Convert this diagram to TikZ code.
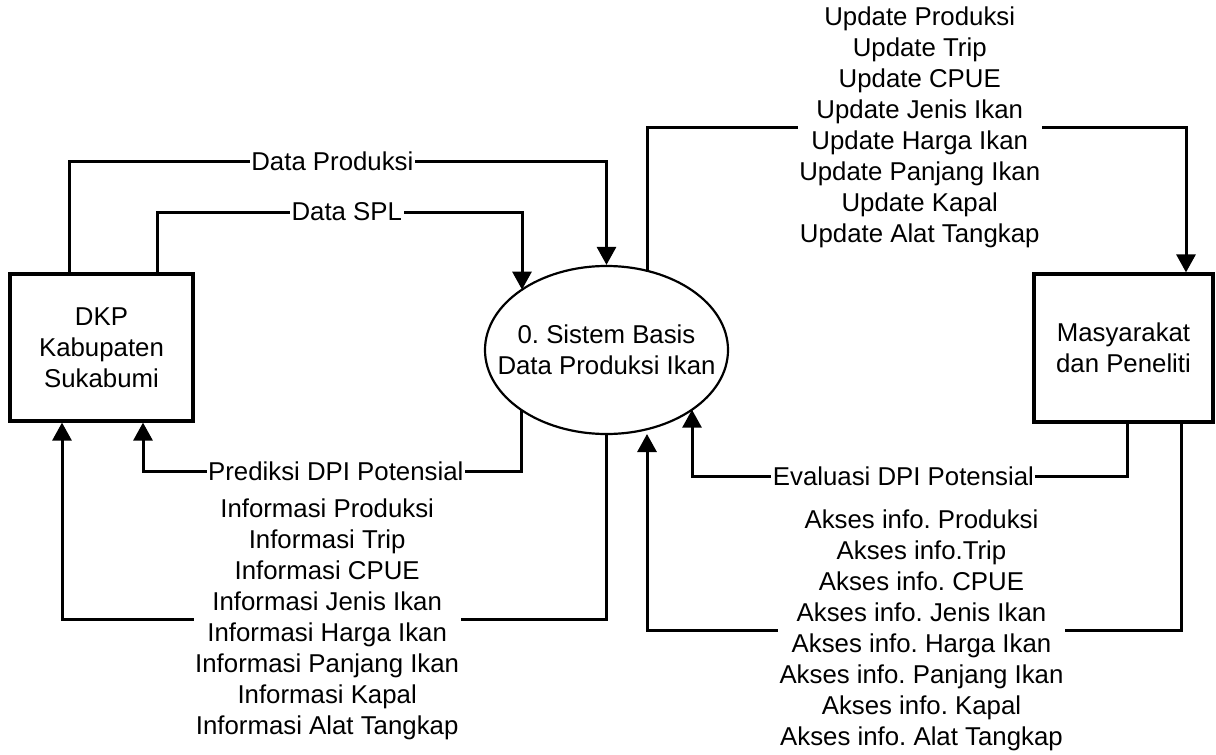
\documentclass[tikz,border=0pt]{standalone}
\usepackage{fontspec}
\setmainfont{Liberation Sans}
\usetikzlibrary{arrows.meta,shapes.geometric}
\frenchspacing
\begin{document}
\begin{tikzpicture}[x=1pt,y=-1pt,
  txt/.style={font=\fontsize{25.8}{31}\selectfont\frenchspacing, align=center},
  box/.style={draw, line width=3.2pt, txt, inner sep=0pt},
  proc/.style={draw, ellipse, line width=2.2pt, txt, inner xsep=-40pt, inner ysep=0pt},
  flow/.style={line width=3pt, -{Triangle[length=18pt,width=19pt]}},
  lbl/.style={txt, fill=white, inner sep=1.5pt}]
\useasboundingbox (0,0) rectangle (1216,755);
% entities and process
\node[box, minimum width=183pt, minimum height=147pt] (dkp) at (101.5,347.5) {DKP\\Kabupaten\\Sukabumi};
\node[proc, minimum width=243pt, minimum height=168pt] (ell) at (606.5,350) {0. Sistem Basis\\Data Produksi Ikan};
\node[box, minimum width=179pt, minimum height=148pt] (mas) at (1123.5,348) {Masyarakat\\dan Peneliti};
% helper coordinates
\coordinate (x69) at (69,0);
\coordinate (x157) at (157,0);
\coordinate (x143) at (143,0);
\coordinate (x62) at (62,0);
\coordinate (x1186) at (1186,0);
\coordinate (x1127) at (1127,0);
\coordinate (x1181) at (1181,0);
\coordinate (yDP) at (0,161);
\coordinate (ySPL) at (0,212);
\coordinate (yPR) at (0,471);
\coordinate (yIN) at (0,619);
\coordinate (yUP) at (0,127);
\coordinate (yEV) at (0,476);
\coordinate (yAK) at (0,630);
\coordinate (eSPL) at (522,289.6);
\coordinate (ePR) at (521,409.7);
\coordinate (eUP) at (647,270.8);
\coordinate (eEV) at (692,409.7);
\coordinate (eAK) at (647,434);
% flows
\draw[flow] (x69 |- dkp.north) -- (x69 |- yDP) -- node[lbl,pos=0.49]{Data Produksi} (ell.north |- yDP) -- (ell.north);
\draw[flow] (x157 |- dkp.north) -- (x157 |- ySPL) -- node[lbl,pos=0.52]{Data SPL} (eSPL |- ySPL) -- (eSPL);
\draw[flow] (ePR) -- (ePR |- yPR) -- node[lbl,pos=0.49]{Prediksi DPI Potensial} (x143 |- yPR) -- (x143 |- dkp.south);
\draw[flow] (ell.south) -- (ell.south |- yIN) -- node[lbl,pos=0.513]{Informasi Produksi\\Informasi Trip\\Informasi CPUE\\Informasi Jenis Ikan\\Informasi Harga Ikan\\Informasi Panjang Ikan\\Informasi Kapal\\Informasi Alat Tangkap} (x62 |- yIN) -- (x62 |- dkp.south);
\draw[flow] (eUP) -- (eUP |- yUP) -- node[lbl,pos=0.506]{Update Produksi\\Update Trip\\Update CPUE\\Update Jenis Ikan\\Update Harga Ikan\\Update Panjang Ikan\\Update Kapal\\Update Alat Tangkap} (x1186 |- yUP) -- (x1186 |- mas.north);
\draw[flow] (x1127 |- mas.south) -- (x1127 |- yEV) -- node[lbl,pos=0.514]{Evaluasi DPI Potensial} (eEV |- yEV) -- (eEV);
\draw[flow] (x1181 |- mas.south) -- (x1181 |- yAK) -- node[lbl,pos=0.486]{Akses info. Produksi\\Akses info.Trip\\Akses info. CPUE\\Akses info. Jenis Ikan\\Akses info. Harga Ikan\\Akses info. Panjang Ikan\\Akses info. Kapal\\Akses info. Alat Tangkap} (eAK |- yAK) -- (eAK);
\end{tikzpicture}
\end{document}
